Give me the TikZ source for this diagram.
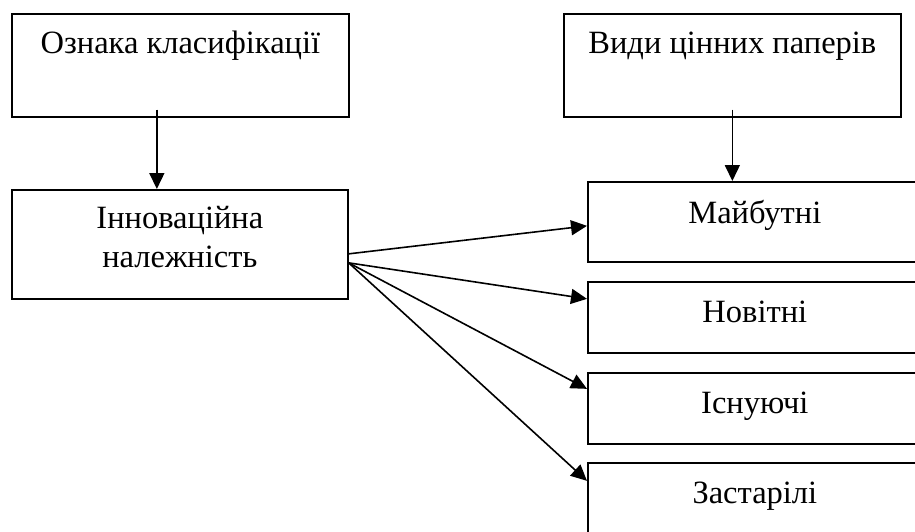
\documentclass[tikz,border=0pt]{standalone}
\usepackage{fontspec}
\setmainfont{Liberation Serif}
\usetikzlibrary{arrows.meta}
\tikzset{
	box/.style={draw, line width=1.7pt, anchor=north west, inner sep=0pt, minimum width=#1, font=\fontsize{32.5}{39}\selectfont},
	arr/.style={line width=1.6pt, -{Triangle[length=16pt,width=15pt]}}
}

\begin{document}
\begin{tikzpicture}[x=1pt,y=-1pt]
		%%%%% START %%%%%
		\useasboundingbox (0,0) rectangle (915,531);
		
		\node[box=337pt, text height=40pt, text depth=63pt] (ozn) at (11,13) {Ознака класифікації};
		\node[box=337pt, text height=40pt, text depth=63pt] (vydy) at (563,13) {Види цінних паперів};
		
		\node[box=336pt, align=center, text height=78pt, text depth=31pt] (innov) at (11,189) {Інноваційна\\належність};
		
		\node[box=334pt, text height=42pt, text depth=38pt] (majb) at (587,181) {Майбутні};
		\node[box=334pt, text height=41pt, text depth=30pt] (novi) at (587,281) {Новітні};
		\node[box=334pt, text height=41pt, text depth=30pt] (isnu) at (587,372) {Існуючі};
		\node[box=334pt, text height=41pt, text depth=34pt] (zast) at (587,462) {Застарілі};
		
		\draw[arr] ([xshift=-23.5pt,yshift=8pt]ozn.south) -- ([xshift=-23.5pt]ozn.south |- innov.north);
		\draw[arr] ([yshift=8pt]vydy.south) -- (vydy.south |- majb.north);
		
		\draw[arr] ([yshift=-9.5pt]innov.east) -- ([yshift=-4pt]majb.west);
		\draw[arr] ([yshift=-18.5pt]innov.east) -- ([yshift=18.5pt]novi.west);
		\draw[arr] ([yshift=-18.5pt]innov.east) -- ([yshift=19.5pt]isnu.west);
		\draw[arr] ([yshift=-18.5pt]innov.east) -- ([yshift=19.5pt]zast.west);
		%%%%% END %%%%%
\end{tikzpicture}
\end{document}
